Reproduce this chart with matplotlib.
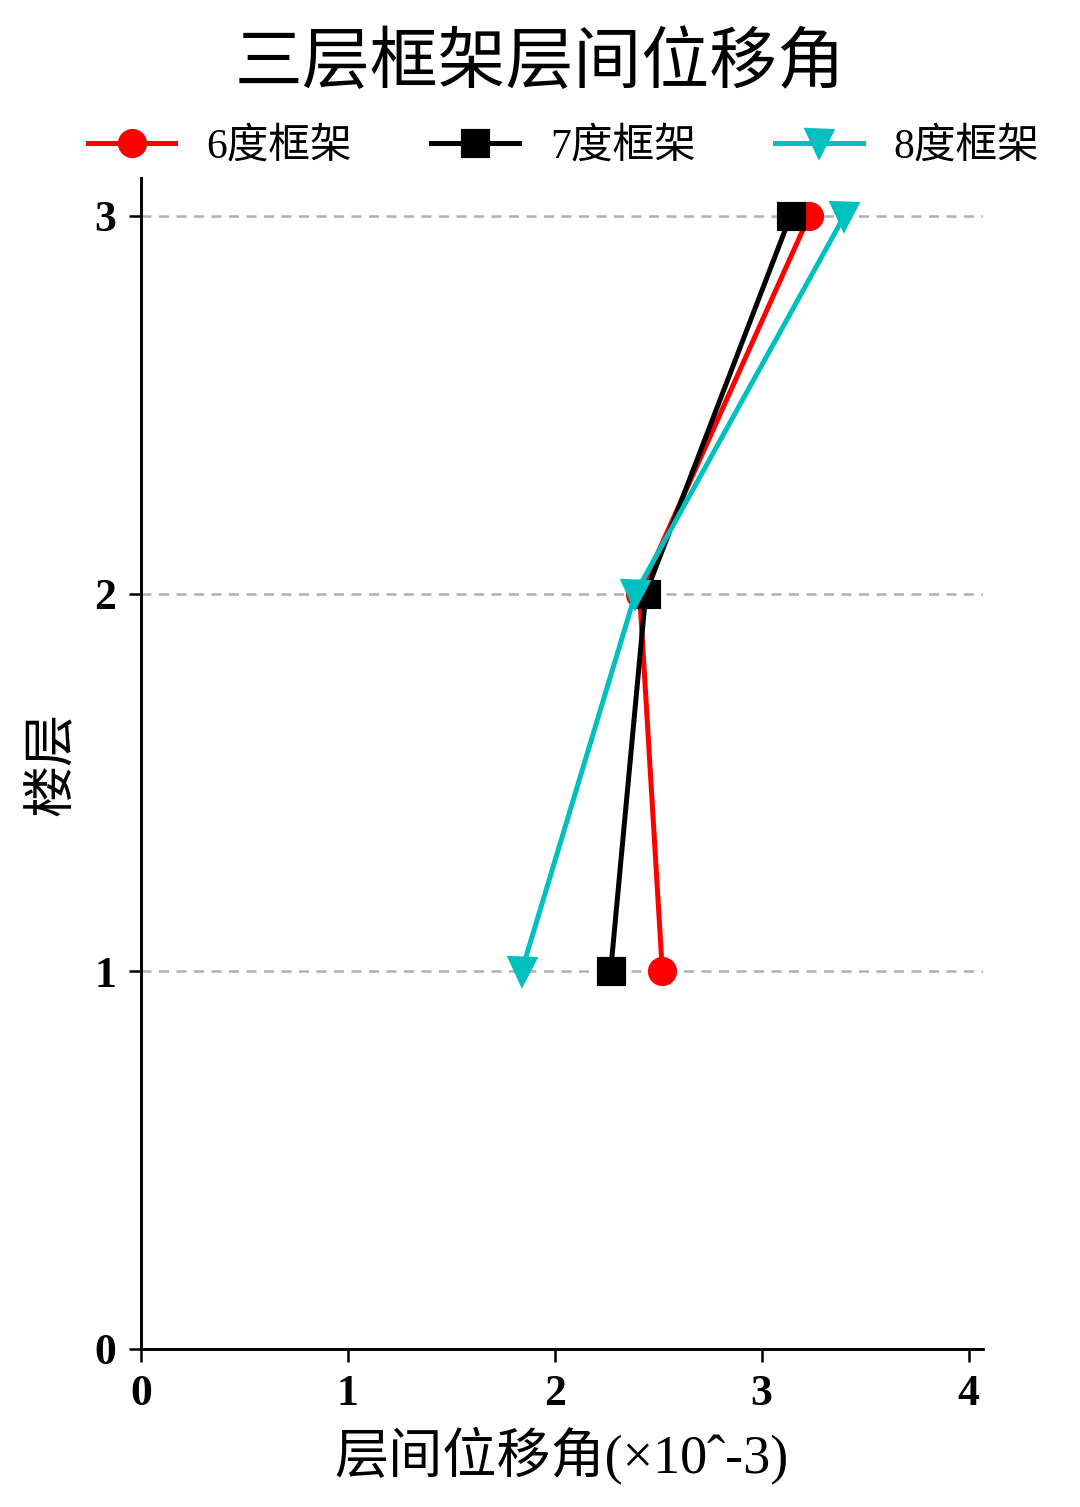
import matplotlib
matplotlib.use("Agg")
import matplotlib.pyplot as plt

floors = [1, 2, 3]
drift_6 = [2.52, 2.41, 3.23]
drift_7 = [2.27, 2.44, 3.14]
drift_8 = [1.84, 2.39, 3.40]
labels = ["6度框架", "7度框架", "8度框架"]
xticks = [0, 1, 2, 3, 4]
yticks = [0, 1, 2, 3]

cjk = ["Liberation Serif", "Noto Sans CJK SC"]
plt.rcParams['font.family'] = cjk

fig = plt.figure(figsize=(3.6, 1507 / 300), dpi=300)
ax = fig.add_axes([141 / 1080, 1 - 1349 / 1507, (983 - 141) / 1080, (1349 - 178) / 1507])

for y in floors:
    ax.axhline(y, color="#b0b0b0", lw=0.6, ls=(0, (4, 3)), zorder=0)

ax.plot(drift_6, floors, color="red", marker="o", ms=6, lw=1.2, label=labels[0])
ax.plot(drift_7, floors, color="black", marker="s", ms=6, lw=1.2, label=labels[1])
ax.plot(drift_8, floors, color="#00bfbf", marker="v", ms=6, lw=1.2, label=labels[2])

ax.set_xlim(0, 4.07)
ax.set_ylim(0, 3.1)
ax.set_xticks(xticks)
ax.set_yticks(yticks)
for lab in ax.get_xticklabels() + ax.get_yticklabels():
    lab.set_fontfamily("Liberation Serif")
    lab.set_fontweight("bold")
    lab.set_fontsize(10.5)
ax.tick_params(width=0.6, length=3, pad=3)
for s in ["top", "right"]:
    ax.spines[s].set_visible(False)
for s in ["left", "bottom"]:
    ax.spines[s].set_linewidth(0.7)

ax.set_xlabel("层间位移角(×10ˆ-3)", fontsize=13, labelpad=3)
ax.set_ylabel("楼层", fontsize=12.5, labelpad=4)

fig.suptitle("三层框架层间位移角", fontsize=16.3, y=0.978)
fig.legend(loc="upper center", bbox_to_anchor=(0.522, 0.94), ncol=3, frameon=False,
           fontsize=10, handlelength=2.1, columnspacing=1.9, handletextpad=0.75)

fig.savefig("out.png", dpi=300)
